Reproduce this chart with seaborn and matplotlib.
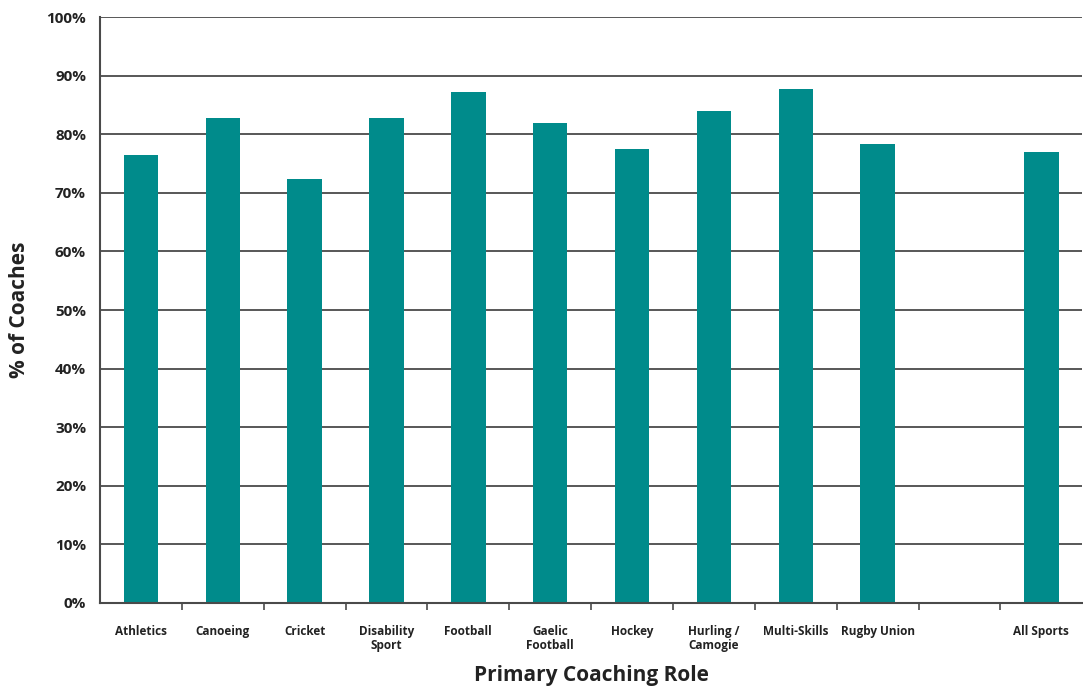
import numpy as np
import pandas as pd
import matplotlib
matplotlib.use("Agg")
import matplotlib.pyplot as plt
import seaborn as sns
from matplotlib.ticker import FuncFormatter, FixedLocator

categories = ["Athletics", "Canoeing", "Cricket", "Disability\nSport", "Football",
              "Gaelic\nFootball", "Hockey", "Hurling /\nCamogie", "Multi-Skills",
              "Rugby Union", " ", "All Sports"]
values = [76.5, 82.8, 72.4, 82.8, 87.2, 81.9, 77.5, 84.0, 87.7, 78.3, np.nan, 77.0]
y_ticks = [0, 10, 20, 30, 40, 50, 60, 70, 80, 90, 100]

sns.set_theme(style="white")
plt.rcParams['font.family'] = ['Open Sans', 'DejaVu Sans']

df = pd.DataFrame({"role": categories, "pct": values})
fig = plt.figure(figsize=(10.83, 6.86), dpi=100)
ax = fig.add_axes([0.0923, 0.121, 0.907, 0.854])

ax.set_axisbelow(True)
for t in y_ticks[1:]:
    ax.axhline(t, color="#4a4a4a", lw=1.3, zorder=0)

sns.barplot(data=df.dropna(), x="role", y="pct", order=categories,
            color="#008B8B", saturation=1, width=0.42, ax=ax, zorder=2,
            linewidth=0, edgecolor="none")

ax.set_ylim(0, 100)
ax.set_xlim(-0.5, len(categories) - 0.5)
ax.set_yticks(y_ticks)
ax.yaxis.set_major_formatter(FuncFormatter(lambda v, p: f"{int(v)}%"))
ax.tick_params(axis="y", labelsize=11, length=0, pad=10)
for lab in ax.get_yticklabels():
    lab.set_fontweight("bold")
    lab.set_color("#222222")

ax.set_xticks(range(len(categories)))
ax.set_xticklabels(categories, fontsize=8.5, fontweight="bold", color="#222222",
                   linespacing=1.1, va="top")
ax.tick_params(axis="x", which="major", length=0, pad=16)
ax.xaxis.set_minor_locator(FixedLocator(np.arange(0.5, len(categories) - 1, 1.0)))
ax.tick_params(axis="x", which="minor", length=5, width=1.2, color="#4a4a4a", bottom=True)

for s in ["top", "right"]:
    ax.spines[s].set_visible(False)
for s in ["left", "bottom"]:
    ax.spines[s].set_color("#4a4a4a")
    ax.spines[s].set_linewidth(1.5)

ax.set_xlabel("Primary Coaching Role", fontsize=15, fontweight="bold", color="#222222", labelpad=9)
ax.set_ylabel("% of Coaches", fontsize=15, fontweight="bold", color="#222222", labelpad=12)

fig.savefig("out.png", dpi=100)
